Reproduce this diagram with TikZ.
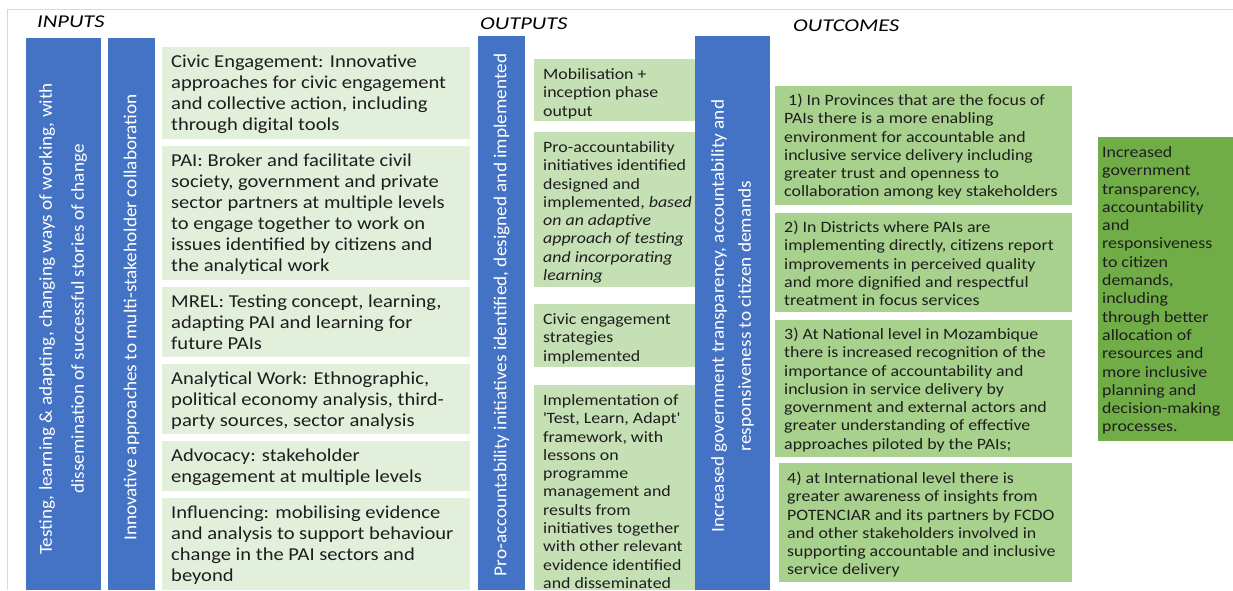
\documentclass[tikz,border=0pt]{standalone}
\usepackage{fontspec}
\setmainfont{Carlito}[FakeStretch=1.13]
\newfontfamily\rotfont{Carlito}[FakeStretch=1.057]
\newfontfamily\headfont{Carlito}[FakeStretch=1.25]
\definecolor{barblue}{HTML}{4472C4}
\definecolor{inbg}{HTML}{E2EFDA}
\definecolor{outbg}{HTML}{C5E0B4}
\definecolor{ocbg}{HTML}{A9D18E}
\definecolor{impbg}{HTML}{70AD47}
\definecolor{txt}{HTML}{1E1E1E}
\definecolor{framegray}{HTML}{D9D9D9}
\tikzset{
  panel/.style={draw=none, anchor=north west, inner sep=0pt, outer sep=0pt},
  bar/.style={panel, fill=barblue},
  inbox/.style={panel, fill=inbg},
  outbox/.style={panel, fill=outbg},
  ocbox/.style={panel, fill=ocbg},
  impbox/.style={panel, fill=impbg},
  bigtxt/.style={anchor=north west, inner sep=0pt, align=left, text=txt,
    font=\fontsize{18.2}{21}\selectfont},
  smalltxt/.style={anchor=north west, inner sep=0pt, align=left, text=txt,
    font=\fontsize{15.8}{18.3}\selectfont},
  vtxt/.style={anchor=center, inner sep=0pt, align=center, text=white, rotate=90},
  head/.style={anchor=base west, inner sep=0pt, text=black,
    font=\headfont\itshape\fontsize{18}{21}\selectfont},
}
\begin{document}
\begin{tikzpicture}[x=1pt, y=-1pt]
\useasboundingbox (0,0) rectangle (1233,590);
% frame lines
\coordinate (fa) at (7,590);
\coordinate (fb) at (7,9);
\coordinate (fc) at (1233,9);
\draw[framegray, line width=0.8pt] (fa) -- (fb) -- (fc);
% headers
\node[head] (hin) at (37,27.3) {INPUTS};
\node[head] (hout) at (480,29.3) {OUTPUTS};
\node[head] (hoc) at (793,31) {OUTCOMES};
% blue bars
\node[bar, minimum width=75pt, minimum height=552pt] (bar1) at (26,38) {};
\node[bar, minimum width=47pt, minimum height=552pt] (bar2) at (108,38) {};
\node[bar, minimum width=47pt, minimum height=554pt] (bar3) at (478,36) {};
\node[bar, minimum width=75pt, minimum height=554pt] (bar4) at (695,36) {};
\node[vtxt, font=\rotfont\fontsize{18.2}{32}\selectfont] (tb1) at (63,319)
  {Testing, learning \& adapting, changing ways of working, with\\dissemination of successful stories of change};
\node[vtxt, font=\rotfont\fontsize{18.2}{22}\selectfont] (tb2) at (131.5,317.5)
  {Innovative approaches to multi-stakeholder collaboration};
\node[vtxt, font=\rotfont\fontsize{18.2}{22}\selectfont] (tb3) at (501.5,315)
  {Pro-accountability initiatives identified, designed and implemented};
\node[vtxt, font=\rotfont\fontsize{18.2}{27}\selectfont] (tb4) at (732.5,316)
  {Increased government transparency, accountability and\\responsiveness to citizen demands};
% input boxes
\node[inbox, minimum width=308pt, minimum height=92pt] (in1) at (162,47) {};
\node[inbox, minimum width=308pt, minimum height=134pt] (in2) at (162,146) {};
\node[inbox, minimum width=308pt, minimum height=70pt] (in3) at (162,287) {};
\node[inbox, minimum width=308pt, minimum height=70pt] (in4) at (162,364) {};
\node[inbox, minimum width=308pt, minimum height=50pt] (in5) at (162,441) {};
\node[inbox, minimum width=308pt, minimum height=92pt] (in6) at (162,498) {};
\node[bigtxt] (tin1) at (171,53) {\strut Civic Engagement: Innovative\\approaches for civic engagement\\and collective action, including\\through digital tools};
\node[bigtxt] (tin2) at (171,152) {\strut PAI: Broker and facilitate civil\\society, government and private\\sector partners at multiple levels\\to engage together to work on\\issues identified by citizens and\\the analytical work};
\node[bigtxt] (tin3) at (171,293) {\strut MREL: Testing concept, learning,\\adapting PAI and learning for\\future PAIs};
\node[bigtxt] (tin4) at (171,370) {\strut Analytical Work: Ethnographic,\\political economy analysis, third-\\party sources, sector analysis};
\node[bigtxt] (tin5) at (171,447) {\strut Advocacy: stakeholder\\engagement at multiple levels};
\node[bigtxt] (tin6) at (171,504) {\strut Influencing: mobilising evidence\\and analysis to support behaviour\\change in the PAI sectors and\\beyond};
% output boxes
\node[outbox, minimum width=161pt, minimum height=62pt] (out1) at (534,59) {};
\node[outbox, minimum width=161pt, minimum height=155pt] (out2) at (534,132) {};
\node[outbox, minimum width=161pt, minimum height=63pt] (out3) at (534,304) {};
\node[outbox, minimum width=161pt, minimum height=205pt] (out4) at (534,385) {};
\node[smalltxt] (tout1) at (543,66.4) {\strut Mobilisation +\\inception phase\\output};
\node[smalltxt] (tout2) at (543,139.4) {\strut Pro-accountability\\initiatives identified\\designed and\\implemented, \textit{based}\\\textit{on an adaptive}\\\textit{approach of testing}\\\textit{and incorporating}\\\textit{learning}};
\node[smalltxt] (tout3) at (543,311.4) {\strut Civic engagement\\strategies\\implemented};
\node[smalltxt] (tout4) at (543,392.4) {\strut Implementation of\\\textquotesingle Test, Learn, Adapt\textquotesingle\\framework, with\\lessons on\\programme\\management and\\results from\\initiatives together\\with other relevant\\evidence identified\\and disseminated};
% outcome boxes
\node[ocbox, minimum width=297pt, minimum height=119pt] (oc1) at (775,86) {};
\node[ocbox, minimum width=297pt, minimum height=99pt] (oc2) at (775,213) {};
\node[ocbox, minimum width=297pt, minimum height=137pt] (oc3) at (775,320) {};
\node[ocbox, minimum width=293pt, minimum height=119pt] (oc4) at (779,463) {};
\node[smalltxt] (toc1) at (784,92.4) {\strut\ 1) In Provinces that are the focus of\\PAIs there is a more enabling\\environment for accountable and\\inclusive service delivery including\\greater trust and openness to\\collaboration among key stakeholders};
\node[smalltxt] (toc2) at (784,219.4) {\strut 2) In Districts where PAIs are\\implementing directly, citizens report\\improvements in perceived quality\\and more dignified and respectful\\treatment in focus services};
\node[smalltxt] (toc3) at (784,326.4) {\strut 3) At National level in Mozambique\\there is increased recognition of the\\importance of accountability and\\inclusion in service delivery by\\government and external actors and\\greater understanding of effective\\approaches piloted by the PAIs;};
\node[smalltxt] (toc4) at (787,470.4) {\strut 4) at International level there is\\greater awareness of insights from\\POTENCIAR and its partners by FCDO\\and other stakeholders involved in\\supporting accountable and inclusive\\service delivery};
% impact box
\node[impbox, minimum width=135pt, minimum height=304pt] (imp) at (1098,137) {};
\node[smalltxt] (timp) at (1102,144.4) {\strut Increased\\government\\transparency,\\accountability\\and\\responsiveness\\to citizen\\demands,\\including\\through better\\allocation of\\resources and\\more inclusive\\planning and\\decision-making\\processes.};
\end{tikzpicture}
\end{document}
